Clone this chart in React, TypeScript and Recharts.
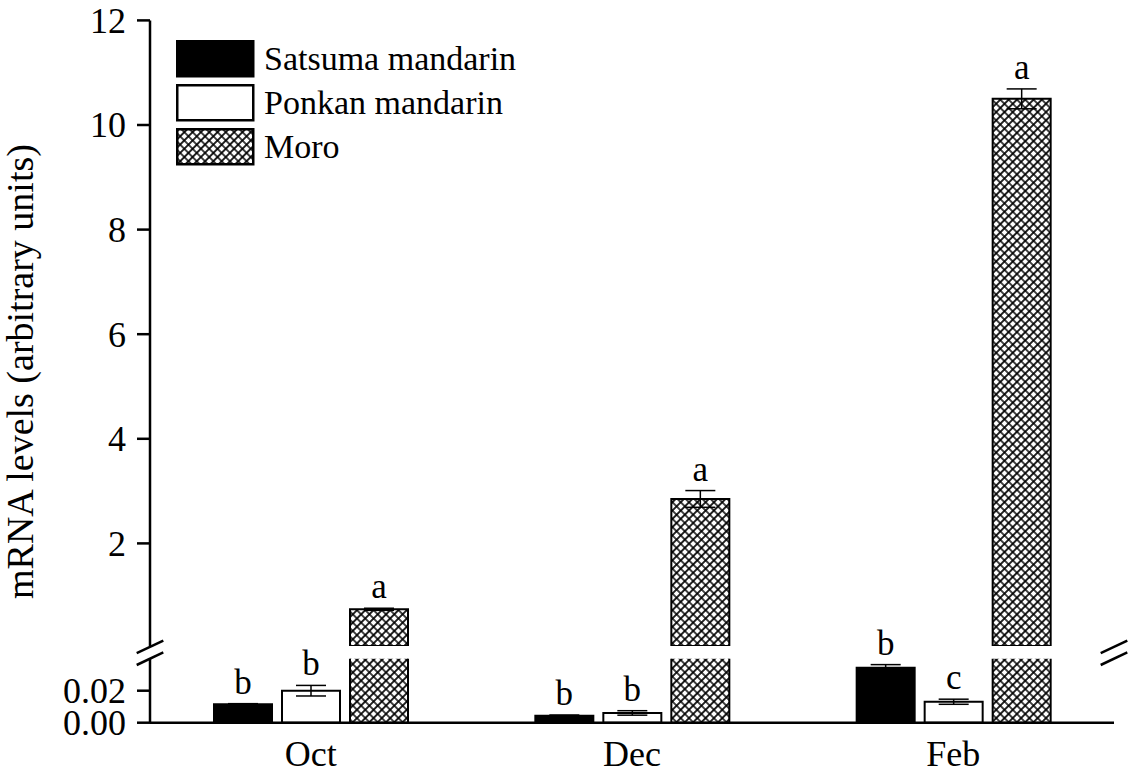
import React from 'react';
import { BarChart, Bar, XAxis, YAxis, ErrorBar, LabelList, Legend } from 'recharts';

const FONT = '"Liberation Serif", "Times New Roman", Times, serif';

// ---------- data ----------
const categories = ['Oct', 'Dec', 'Feb'];
const seriesNames = ['Satsuma mandarin', 'Ponkan mandarin', 'Moro'];
const satsuma = [0.0115, 0.0044, 0.0344];
const satsumaErr = [0.0004, 0.0004, 0.0019];
const ponkan = [0.02, 0.0061, 0.0131];
const ponkanErr = [0.0033, 0.0014, 0.0016];
const moro = [0.74, 2.85, 10.5];
const moroErr = [0.02, 0.16, 0.19];
const satsumaLetters = ['b', 'b', 'b'];
const ponkanLetters = ['b', 'b', 'c'];
const moroLetters = ['a', 'a', 'a'];
const upperTicks = [2, 4, 6, 8, 10, 12];
const lowerTicks = [0, 0.02];
const upperDomain: [number, number] = [0.04, 12];
const lowerDomain: [number, number] = [0, 0.04];

// ---------- layout ----------
const W = 1136;
const H = 773;
const PLOT_LEFT = 150;
const PLOT_RIGHT = 1114;
const UPPER_TOP = 20.4;
const UPPER_BOTTOM = 645.9;
const LOWER_TOP = 658.7;
const LOWER_BOTTOM = 722.7;
const UPPER_H = 700;

const axisStyle = { stroke: '#000', strokeWidth: 2.5 };

const inUpper = (v: number) => (v >= upperDomain[0] ? v : null);
const inLower = (v: number) => (v <= lowerDomain[1] ? v : null);

const upperData = categories.map((c, i) => ({
  cat: c,
  satsuma: inUpper(satsuma[i]),
  ponkan: inUpper(ponkan[i]),
  moro: inUpper(moro[i]),
  moroErr: inUpper(moro[i]) == null ? null : moroErr[i],
  moroLetter: inUpper(moro[i]) == null ? null : moroLetters[i],
}));

const lowerData = categories.map((c, i) => ({
  cat: c,
  satsuma: satsuma[i],
  ponkan: ponkan[i],
  moro: moro[i],
  satsumaErr: inLower(satsuma[i]) == null ? null : satsumaErr[i],
  ponkanErr: inLower(ponkan[i]) == null ? null : ponkanErr[i],
  satsumaLetter: inLower(satsuma[i]) == null ? null : satsumaLetters[i],
  ponkanLetter: inLower(ponkan[i]) == null ? null : ponkanLetters[i],
}));

const makeLetter = (vals: number[], errs: number[]) => (props: any) => {
  const { x, y, width, height, value, index } = props;
  if (value == null || index == null) return null;
  const v = vals[index];
  const errPx = v ? (errs[index] / v) * Math.abs(height) : 0;
  return (
    <text
      x={Number(x) + Number(width) / 2}
      y={Number(y) - errPx - 10}
      textAnchor="middle"
      fontFamily={FONT}
      fontSize={35}
      fill="#000"
    >
      {value}
    </text>
  );
};

const HatchDef = ({ id }: { id: string }) => (
  <defs>
    <pattern
      id={id}
      width={5.87}
      height={5.87}
      patternUnits="userSpaceOnUse"
      patternTransform="rotate(45)"
    >
      <rect width={5.87} height={5.87} fill="#fff" />
      <path d="M2.935,0 V5.87 M0,2.935 H5.87" stroke="#000" strokeWidth={1.7} />
    </pattern>
  </defs>
);

const legendFills = ['#000', '#fff', 'url(#hatchL)'];

const renderLegend = () => (
  <div style={{ fontFamily: FONT }}>
    {seriesNames.map((name: string, i: number) => (
      <div key={name} style={{ display: 'flex', alignItems: 'center', height: 44 }}>
        <svg width={80} height={38} style={{ display: 'block' }}>
          {i === 2 ? <HatchDef id="hatchL" /> : null}
          <rect x={1.25} y={1.25} width={76} height={35} fill={legendFills[i]} stroke="#000" strokeWidth={2.5} />
        </svg>
        <span
          style={{
            marginLeft: 8,
            fontFamily: FONT,
            fontSize: 34,
            lineHeight: '38px',
            color: '#000',
            whiteSpace: 'nowrap',
          }}
        >
          {name}
        </span>
      </div>
    ))}
  </div>
);

const CatTick = (props: any) => {
  const { x, y, payload } = props;
  return (
    <text x={x} y={Number(y) + 43} textAnchor="middle" fontFamily={FONT} fontSize={36} fill="#000">
      {payload.value}
    </text>
  );
};

const makeYTick = (fmt: (v: number) => string) => (props: any) => {
  const { x, y, payload } = props;
  return (
    <text x={x} y={Number(y) + 12.5} textAnchor="end" fontFamily={FONT} fontSize={36} fill="#000">
      {fmt(payload.value)}
    </text>
  );
};

const Overlay = () => {
  const marks: React.ReactNode[] = [];
  [PLOT_LEFT, PLOT_RIGHT].forEach((cx) => {
    [UPPER_BOTTOM + 1, LOWER_TOP].forEach((cy) => {
      marks.push(
        <line
          key={`${cx}-${cy}`}
          x1={cx - 13.3}
          y1={cy + 6.3}
          x2={cx + 13.3}
          y2={cy - 6.3}
          stroke="#000"
          strokeWidth={2.5}
        />
      );
    });
  });
  const ly = (UPPER_TOP + LOWER_BOTTOM) / 2;
  return (
    <svg width={W} height={H} style={{ position: 'absolute', left: 0, top: 0, pointerEvents: 'none' }}>
      {marks}
      <text
        x={33}
        y={ly}
        transform={`rotate(-90, 33, ${ly})`}
        textAnchor="middle"
        fontFamily={FONT}
        fontSize={38}
        fill="#000"
      >
        mRNA levels (arbitrary units)
      </text>
    </svg>
  );
};

export default function App() {
  return (
    <div style={{ position: 'absolute', left: 0, top: 0, width: W, height: H, background: '#fff' }}>
      <div style={{ position: 'absolute', left: 0, top: 0 }}>
        <BarChart
          width={W}
          height={UPPER_H}
          data={upperData}
          margin={{ top: UPPER_TOP, right: W - PLOT_RIGHT, bottom: UPPER_H - UPPER_BOTTOM, left: 0 }}
          barSize={58}
          barGap={10}
          baseValue={0}
        >
          <HatchDef id="hatchU" />
          <XAxis dataKey="cat" orientation="top" height={0} tick={false} tickLine={false} axisLine={axisStyle} />
          <YAxis
            yAxisId="l"
            width={PLOT_LEFT}
            domain={upperDomain}
            allowDataOverflow
            ticks={upperTicks}
            interval={0}
            tick={makeYTick((v) => String(v))}
            tickSize={13}
            tickMargin={11}
            tickLine={axisStyle}
            axisLine={axisStyle}
          />
          <YAxis
            yAxisId="r"
            orientation="right"
            width={0}
            domain={upperDomain}
            allowDataOverflow
            tick={false}
            tickLine={false}
            axisLine={axisStyle}
          />
          <Legend
            layout="vertical"
            align="center"
            verticalAlign="middle"
            content={renderLegend}
            wrapperStyle={{ left: 176, top: 36.5, width: 'auto', height: 'auto' }}
          />
          <Bar yAxisId="l" dataKey="satsuma" name={seriesNames[0]} fill="#000" stroke="#000" strokeWidth={2} isAnimationActive={false} />
          <Bar yAxisId="l" dataKey="ponkan" name={seriesNames[1]} fill="#fff" stroke="#000" strokeWidth={2} isAnimationActive={false} />
          <Bar yAxisId="l" dataKey="moro" name={seriesNames[2]} fill="url(#hatchU)" stroke="#000" strokeWidth={2} isAnimationActive={false}>
            <ErrorBar dataKey="moroErr" width={15} stroke="#000" strokeWidth={1.5} />
            <LabelList dataKey="moroLetter" content={makeLetter(moro, moroErr)} />
          </Bar>
        </BarChart>
      </div>
      <div style={{ position: 'absolute', left: 0, top: 0 }}>
        <BarChart
          width={W}
          height={H}
          data={lowerData}
          margin={{ top: LOWER_TOP, right: W - PLOT_RIGHT, bottom: 0, left: 0 }}
          barSize={58}
          barGap={10}
        >
          <HatchDef id="hatchD" />
          <XAxis
            dataKey="cat"
            height={H - LOWER_BOTTOM}
            tickLine={false}
            tickSize={0}
            tickMargin={0}
            axisLine={axisStyle}
            tick={<CatTick />}
            interval={0}
          />
          <YAxis
            yAxisId="l"
            width={PLOT_LEFT}
            domain={lowerDomain}
            allowDataOverflow
            ticks={lowerTicks}
            interval={0}
            tick={makeYTick((v) => v.toFixed(2))}
            tickSize={13}
            tickMargin={11}
            tickLine={axisStyle}
            axisLine={axisStyle}
          />
          <YAxis
            yAxisId="r"
            orientation="right"
            width={0}
            domain={lowerDomain}
            allowDataOverflow
            tick={false}
            tickLine={false}
            axisLine={axisStyle}
          />
          <Bar yAxisId="l" dataKey="satsuma" name={seriesNames[0]} fill="#000" stroke="#000" strokeWidth={2} isAnimationActive={false}>
            <ErrorBar dataKey="satsumaErr" width={15} stroke="#000" strokeWidth={1.5} />
            <LabelList dataKey="satsumaLetter" content={makeLetter(satsuma, satsumaErr)} />
          </Bar>
          <Bar yAxisId="l" dataKey="ponkan" name={seriesNames[1]} fill="#fff" stroke="#000" strokeWidth={2} isAnimationActive={false}>
            <ErrorBar dataKey="ponkanErr" width={15} stroke="#000" strokeWidth={1.5} />
            <LabelList dataKey="ponkanLetter" content={makeLetter(ponkan, ponkanErr)} />
          </Bar>
          <Bar yAxisId="l" dataKey="moro" name={seriesNames[2]} fill="url(#hatchD)" stroke="#000" strokeWidth={2} isAnimationActive={false} />
        </BarChart>
      </div>
      <Overlay />
    </div>
  );
}
